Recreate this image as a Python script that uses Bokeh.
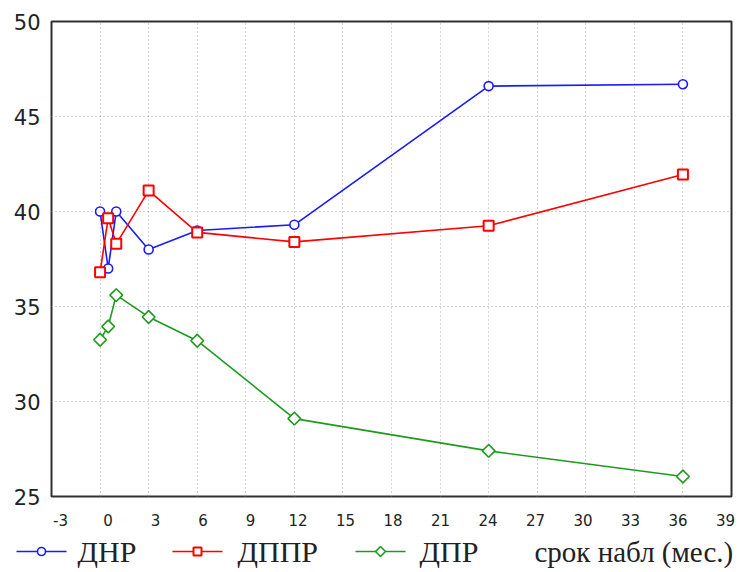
import math
from bokeh.plotting import figure
from bokeh.layouts import column
from bokeh.models import Range1d, LinearAxis, FixedTicker, ColumnDataSource
from bokeh.core.properties import value
from bokeh.embed import file_html
from bokeh.resources import INLINE

# ---- data ----
months = [0, 0.5, 1, 3, 6, 12, 24, 36]
dnr = [40.0, 37.0, 40.0, 38.0, 39.0, 39.3, 46.6, 46.7]
dppr = [36.8, 39.65, 38.3, 41.1, 38.9, 38.4, 39.25, 41.95]
dpr = [33.25, 33.95, 35.6, 34.45, 33.2, 29.1, 27.4, 26.05]
series_names = ["ДНР", "ДППР", "ДПР"]
series_values = [dnr, dppr, dpr]
x_ticks = list(range(-3, 40, 3))
x_tick_labels = {t: str(t) for t in x_ticks}
y_ticks = [25, 30, 35, 40, 45, 50]
x_title = "срок набл (мес.)"

BLUE = "#1a1aff"
RED = "#ff0000"
GREEN = "#1f9a1f"
SERIF = "Liberation Serif"

STYLES = [
    dict(color=BLUE, marker="circle", size=9, lsize=8, angle=0.0, lw=1.6),
    dict(color=RED, marker="square", size=10, lsize=8, angle=0.0, lw=2.0),
    dict(color=GREEN, marker="square", size=9, lsize=7, angle=math.pi / 4, lw=1.6),
]

p = figure(width=739, height=530, output_backend="svg", toolbar_location=None,
           x_range=Range1d(-3, 39), y_range=Range1d(25, 50),
           min_border_left=51, min_border_right=8, min_border_top=21,
           min_border_bottom=34)
p.frame_align = False
p.background_fill_color = "white"
p.border_fill_color = "white"
p.outline_line_color = "#303030"
p.outline_line_width = 2

# main x axis hidden (gives the grid), labels on a slightly offset axis
p.xaxis[0].visible = False
p.xgrid[0].ticker = FixedTicker(ticks=x_ticks)
p.ygrid[0].ticker = FixedTicker(ticks=y_ticks)
for g in (p.xgrid[0], p.ygrid[0]):
    g.grid_line_color = "#a8a8a8"
    g.grid_line_dash = "1 3"
    g.grid_line_width = 1

p.extra_x_ranges = {"lab": Range1d(-3.57, 39.38)}
xa = LinearAxis(x_range_name="lab", ticker=FixedTicker(ticks=x_ticks))
xa.major_label_overrides = x_tick_labels
xa.axis_line_color = None
xa.major_tick_out = 0
xa.major_tick_in = 0
xa.minor_tick_out = 0
xa.minor_tick_in = 0
xa.major_label_standoff = 17
xa.major_label_text_font = "DejaVu Sans"
xa.major_label_text_font_size = "15px"
xa.major_label_text_color = "#222222"
p.add_layout(xa, "below")

ya = p.yaxis[0]
ya.ticker = FixedTicker(ticks=y_ticks)
ya.axis_line_color = None
ya.major_tick_out = 0
ya.major_tick_in = 0
ya.minor_tick_out = 0
ya.minor_tick_in = 0
ya.major_label_standoff = 11
ya.major_label_text_font = "DejaVu Sans"
ya.major_label_text_font_size = "21px"
ya.major_label_text_color = "#222222"

# draw order: blue, green, red (red squares on top)
for idx in (0, 2, 1):
    vals, st = series_values[idx], STYLES[idx]
    p.line(months, vals, line_color=st["color"], line_width=1.6)
    p.scatter(months, vals, marker=st["marker"], size=st["size"], angle=st["angle"],
              line_color=st["color"], fill_color="white", line_width=st["lw"])

# ---- legend strip below (pixel coordinates of the strip) ----
q = figure(width=739, height=42, output_backend="svg", toolbar_location=None,
           x_range=Range1d(0, 739), y_range=Range1d(0, 42),
           x_axis_location=None, y_axis_location=None,
           min_border=0, min_border_left=0, min_border_right=0,
           min_border_top=0, min_border_bottom=0)
q.frame_align = False
q.outline_line_color = None
q.xgrid.visible = False
q.ygrid.visible = False
q.background_fill_color = "white"
q.border_fill_color = "white"

key_left = [16, 172, 355]      # legend key positions (layout)
text_left = [77, 237, 419]
key_w = 50
row_y = 21
for i, st in enumerate(STYLES):
    x0 = key_left[i]
    q.line([x0, x0 + key_w], [row_y, row_y], line_color=st["color"], line_width=1.6)
    q.scatter([x0 + key_w / 2], [row_y], marker=st["marker"], size=st["lsize"],
              angle=st["angle"], line_color=st["color"], fill_color="white",
              line_width=st["lw"])

q.text(x=text_left, y=[row_y] * 3, text=series_names, text_font=value(SERIF),
       text_font_size="30px", text_color="#222222", text_baseline="middle",
       text_align="left")
q.text(x=[534], y=[row_y], text=[x_title], text_font=value(SERIF),
       text_font_size="29px", text_color="#222222", text_baseline="middle",
       text_align="left")

layout = column(p, q, spacing=0)
open("out.html", "w").write(file_html(layout, INLINE))
